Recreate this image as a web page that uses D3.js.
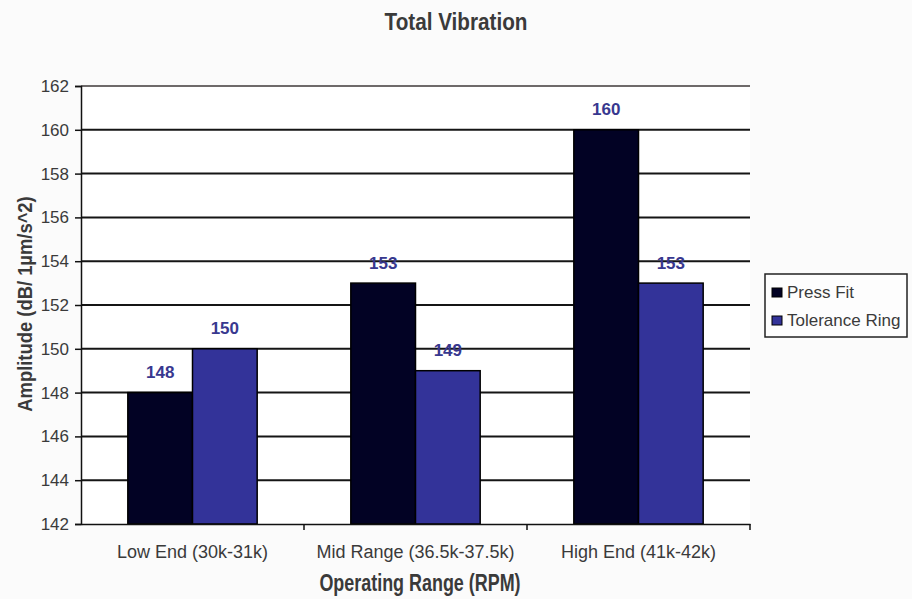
<!DOCTYPE html>
<html>
<head>
<meta charset="utf-8">
<script src="https://cdn.jsdelivr.net/npm/d3@7"></script>
<style>
  html, body { margin: 0; padding: 0; background: #fbfbfb; }
  svg { display: block; }
  text { font-family: "Liberation Sans", Arial, Helvetica, sans-serif; }
</style>
</head>
<body>
<svg id="chart" width="912" height="599"></svg>
<script>
// Total vibration amplitude per operating range, two bearing mounting methods
const categories = ["Low End (30k-31k)", "Mid Range (36.5k-37.5k)", "High End (41k-42k)"];
const seriesNames = ["Press Fit", "Tolerance Ring"];
const pressFit = [148, 153, 160];
const toleranceRing = [150, 149, 153];
const yTicks = [142, 144, 146, 148, 150, 152, 154, 156, 158, 160, 162];

const colors = ["#020224", "#333399"];
const seriesValues = [pressFit, toleranceRing];
const textColor = "#3a3a3a";

const svg = d3.select("#chart");
const margin = { left: 81, right: 162, top: 86, bottom: 75 };
const W = 912, H = 599;
const plotW = W - margin.left - margin.right;
const plotH = H - margin.top - margin.bottom;

const x = d3.scaleBand().domain(categories).range([margin.left, margin.left + plotW]);
const y = d3.scaleLinear().domain([142, 162]).range([margin.top + plotH, margin.top]);
const groupWidth = x.bandwidth() * 0.58;
const xs = d3.scaleBand().domain(seriesNames).range([0, groupWidth]);

// condensed heading text: horizontal squeeze around its anchor point
function squeezed(parent, px, py, sx, rot) {
  return parent.append("text")
    .attr("transform", `translate(${px},${py})${rot ? ` rotate(${rot})` : ""} scale(${sx},1)`)
    .attr("text-anchor", "middle");
}

// plot area
svg.append("rect")
  .attr("x", margin.left).attr("y", margin.top)
  .attr("width", plotW).attr("height", plotH)
  .attr("fill", "#ffffff");

// grid lines
svg.append("g").selectAll("line")
  .data(yTicks.filter(t => t > 142))
  .join("line")
  .attr("x1", margin.left).attr("x2", margin.left + plotW)
  .attr("y1", d => y(d)).attr("y2", d => y(d))
  .attr("stroke", d => d === 162 ? "#6e6a6a" : "#151515")
  .attr("stroke-width", 2);

// y axis
const yAxis = svg.append("g")
  .attr("transform", `translate(${margin.left},0)`)
  .call(d3.axisLeft(y).tickValues(yTicks).tickSize(6).tickPadding(6).tickFormat(d3.format("d")));
yAxis.select(".domain").attr("stroke", "#111").attr("stroke-width", 1.5);
yAxis.selectAll(".tick line").attr("stroke", "#111").attr("stroke-width", 1.5);
yAxis.selectAll(".tick text").attr("font-size", 17).attr("fill", textColor);

// bars
const groups = svg.append("g").selectAll("g")
  .data(categories)
  .join("g")
  .attr("transform", c => `translate(${x(c) + (x.bandwidth() - groupWidth) / 2},0)`);

const cells = (c, i) => seriesNames.map((s, j) => ({ s, j, v: seriesValues[j][i] }));

groups.selectAll("rect")
  .data(cells)
  .join("rect")
  .attr("x", d => xs(d.s))
  .attr("y", d => y(d.v))
  .attr("width", xs.bandwidth())
  .attr("height", d => y(142) - y(d.v))
  .attr("fill", d => colors[d.j])
  .attr("stroke", "#000")
  .attr("stroke-width", 1.5);

groups.selectAll("text.val")
  .data(cells)
  .join("text")
  .attr("class", "val")
  .attr("x", d => xs(d.s) + xs.bandwidth() / 2)
  .attr("y", d => y(d.v) - 14.5)
  .attr("text-anchor", "middle")
  .attr("font-size", 17).attr("font-weight", "bold")
  .attr("fill", "#38388f")
  .text(d => d.v);

// x axis
const xAxis = svg.append("g")
  .attr("transform", `translate(0,${margin.top + plotH})`)
  .call(d3.axisBottom(x).tickSize(0).tickPadding(21));
xAxis.select(".domain").attr("stroke", "#111").attr("stroke-width", 1.5);
xAxis.selectAll(".tick text").attr("font-size", 18).attr("fill", textColor);
// category separator ticks
xAxis.append("g").selectAll("line")
  .data(d3.range(1, categories.length + 1))
  .join("line")
  .attr("x1", i => margin.left + i * x.step()).attr("x2", i => margin.left + i * x.step())
  .attr("y1", 0).attr("y2", 6)
  .attr("stroke", "#111").attr("stroke-width", 1.5);

// title and axis titles
squeezed(svg, 456, 30, 0.9)
  .attr("font-size", 23).attr("font-weight", "bold").attr("fill", textColor)
  .text("Total Vibration");

squeezed(svg, 420, 591, 0.78)
  .attr("font-size", 23).attr("font-weight", "bold").attr("fill", textColor)
  .text("Operating Range (RPM)");

squeezed(svg, 32, 304, 0.92, -90)
  .attr("font-size", 20).attr("font-weight", "bold").attr("fill", textColor)
  .text("Amplitude (dB/ 1µm/s^2)");

// legend
const legend = svg.append("g").attr("transform", "translate(765,274)");
legend.append("rect")
  .attr("width", 142).attr("height", 63)
  .attr("fill", "#fdfdfd").attr("stroke", "#222").attr("stroke-width", 1.5);
seriesNames.forEach((name, i) => {
  const row = legend.append("g").attr("transform", `translate(7,${18 + i * 28})`);
  row.append("rect")
    .attr("x", 0).attr("y", -4).attr("width", 10).attr("height", 9)
    .attr("fill", colors[i]).attr("stroke", "#000").attr("stroke-width", 1);
  row.append("text")
    .attr("x", 15).attr("y", 6)
    .attr("font-size", 17).attr("fill", textColor)
    .text(name);
});
</script>
</body>
</html>
